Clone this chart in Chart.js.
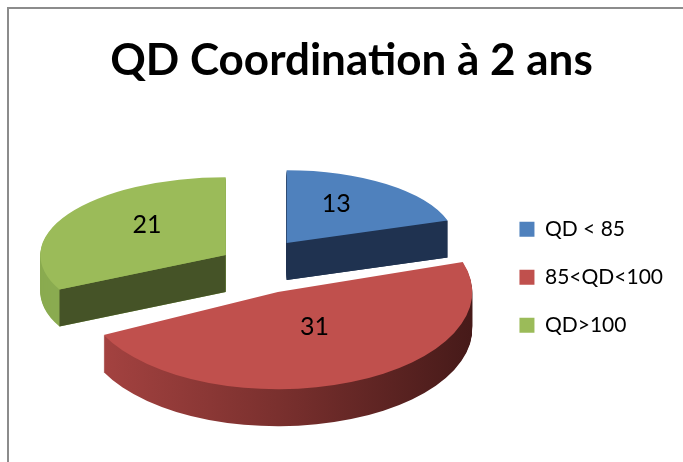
<!DOCTYPE html>
<html>
<head>
<meta charset="utf-8">
<script src="https://cdn.jsdelivr.net/npm/chart.js@4.4.0/dist/chart.umd.min.js"></script>
<style>
  html, body { margin: 0; padding: 0; background: #fff; overflow: hidden; }
  #frame { position: absolute; left: 7px; top: 7px; width: 700px; height: 480px; border: 2px solid #8c8c8c; }
  #wrap { position: absolute; left: 0; top: 0; width: 683px; height: 462px; }
</style>
</head>
<body>
<div id="frame"></div>
<div id="wrap"><canvas id="chart"></canvas></div>
<script>
// data
const titleText = 'QD Coordination à 2 ans';
const categories = ['QD < 85', '85<QD<100', 'QD>100'];
const counts = [13, 31, 21];

// look
const topColors = ['#4f81bd', '#c0504d', '#9bbb59'];
const wallColors = ['#1f3250', 'gradient', '#8aab50'];
const cutColors = ['#1f3250', '#5a2120', '#455327'];
const explode = [56, 64, 33];          // how far each slice is pulled out
const sliceScale = [0.94, 1.08, 1.03]; // poor man's perspective
const sliceTilt = [0.43, 0.5, 0.42];
const drawOrder = [0, 2, 1];           // back slices first
const DEPTH = 37;
const RADIUS = 180;
const PIE_SHIFT_X = -7.5;

// fake 3D: squash each slice and stack copies underneath for the wall
const pie3d = {
  id: 'pie3d',
  beforeDatasetsDraw(chart) {
    const ctx = chart.ctx;
    const arcs = chart.getDatasetMeta(0).data;
    const cx = arcs[0].x + PIE_SHIFT_X, cy = arcs[0].y;

    const where = (arc, i, frac) => {
      const mid = (arc.startAngle + arc.endAngle) / 2;
      const r = RADIUS * sliceScale[i] * frac + explode[i];
      return [cx + Math.cos(mid) * r, cy + Math.sin(mid) * r * sliceTilt[i]];
    };

    drawOrder.forEach(i => {
      const arc = arcs[i];
      const [sx, sy] = where(arc, i, 0);
      const s = sliceScale[i];
      const t = sliceTilt[i];

      let wall = wallColors[i];
      if (wall === 'gradient') {
        wall = ctx.createLinearGradient(arc.x - RADIUS, 0, arc.x + RADIUS, 0);
        wall.addColorStop(0, '#a84442');
        wall.addColorStop(0.5, '#7a302e');
        wall.addColorStop(1, '#461a19');
      }

      const place = (dy) => {
        ctx.save();
        ctx.translate(sx, sy + dy);
        ctx.scale(s, s * t);
        ctx.translate(-arc.x, -arc.y);
        arc.draw(ctx);
        ctx.restore();
      };

      const saved = arc.options;
      arc.options = Object.assign({}, saved, { backgroundColor: wall, borderWidth: 0 });
      for (let d = DEPTH; d >= 1; d--) place(d);
      arc.options = saved;

      // straight cut faces that turn towards the viewer
      const r = arc.outerRadius * s;
      [[arc.startAngle, -Math.PI / 2], [arc.endAngle, Math.PI / 2]].forEach(([a, turn]) => {
        if (Math.sin(a + turn) < 0.05) return;
        const rx = sx + Math.cos(a) * r;
        const ry = sy + Math.sin(a) * r * t;
        ctx.beginPath();
        ctx.moveTo(sx, sy);
        ctx.lineTo(rx, ry);
        ctx.lineTo(rx, ry + DEPTH);
        ctx.lineTo(sx, sy + DEPTH);
        ctx.closePath();
        ctx.fillStyle = cutColors[i];
        ctx.fill();
      });

      place(0);
    });

    // value labels
    ctx.save();
    ctx.fillStyle = '#000';
    ctx.font = '25px Lato';
    ctx.textAlign = 'center';
    ctx.textBaseline = 'middle';
    arcs.forEach((arc, i) => {
      const [x, y] = where(arc, i, 0.5);
      ctx.fillText(String(counts[i]), x, y - 10);
    });
    ctx.restore();
    return false;
  }
};

new Chart(document.getElementById('chart'), {
  type: 'pie',
  data: {
    labels: categories,
    datasets: [{
      data: counts,
      backgroundColor: topColors,
      borderWidth: 0,
      radius: RADIUS,
      clip: false
    }]
  },
  options: {
    responsive: true,
    maintainAspectRatio: false,
    animation: false,
    events: [],
    layout: { padding: { left: 30, right: 10, top: 0, bottom: 34 } },
    plugins: {
      title: {
        display: true,
        text: titleText,
        color: '#000',
        font: { family: 'Lato', size: 44, weight: 'bold' },
        padding: { top: 34, bottom: 10 }
      },
      legend: {
        position: 'right',
        title: { display: true, text: ' ', font: { size: 12 }, padding: { top: 106, bottom: 6 } },
        labels: {
          color: '#000',
          boxWidth: 15,
          boxHeight: 15,
          padding: 27,
          font: { family: 'Lato', size: 21 }
        }
      },
      tooltip: { enabled: false }
    }
  },
  plugins: [pie3d]
});
</script>
</body>
</html>
